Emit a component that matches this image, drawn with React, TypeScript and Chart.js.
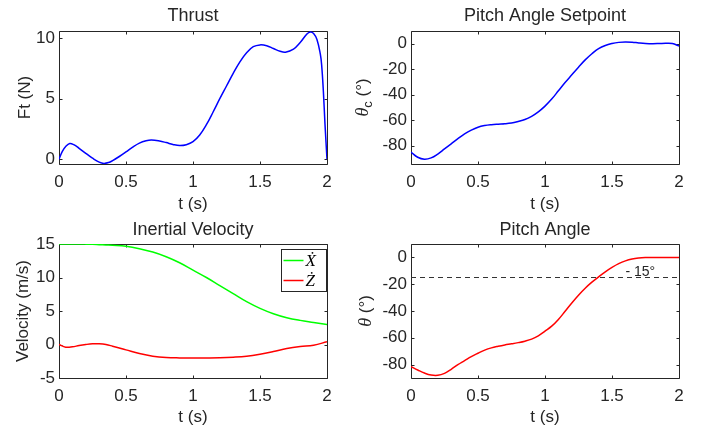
import React, { useEffect, useRef } from "react";
import { Chart, registerables } from "chart.js";

Chart.register(...registerables);

// ---------- data ----------
const xTickValues = [0, 0.5, 1, 1.5, 2];

const thrustT = [0, 0.025, 0.05, 0.08, 0.11, 0.15, 0.2, 0.25, 0.3, 0.335, 0.37, 0.4, 0.45, 0.5, 0.55, 0.6, 0.65, 0.69, 0.75, 0.8, 0.85, 0.9, 0.95, 1.0, 1.05, 1.1, 1.15, 1.2, 1.25, 1.3, 1.35, 1.4, 1.45, 1.5, 1.55, 1.6, 1.65, 1.69, 1.75, 1.8, 1.85, 1.875, 1.9, 1.925, 1.95, 1.96, 1.973, 1.985, 2.0];
const thrustF = [0, 0.65, 1.05, 1.3, 1.2, 0.9, 0.48, 0.08, -0.25, -0.35, -0.28, -0.12, 0.22, 0.6, 1.0, 1.33, 1.52, 1.58, 1.5, 1.37, 1.22, 1.13, 1.2, 1.45, 2.0, 2.85, 3.9, 5.0, 6.05, 7.1, 8.05, 8.8, 9.3, 9.45, 9.38, 9.15, 8.92, 8.85, 9.1, 9.65, 10.35, 10.52, 10.4, 9.9, 8.7, 7.8, 5.6, 2.9, 0];
const thrustTicksY = [0, 5, 10];

const setpointT = [0, 0.05, 0.1, 0.15, 0.2, 0.25, 0.3, 0.35, 0.4, 0.45, 0.5, 0.55, 0.6, 0.65, 0.7, 0.75, 0.8, 0.85, 0.9, 0.95, 1.0, 1.05, 1.1, 1.15, 1.2, 1.25, 1.3, 1.35, 1.4, 1.45, 1.5, 1.55, 1.6, 1.65, 1.7, 1.75, 1.8, 1.85, 1.9, 1.95, 2.0];
const setpointDeg = [-85, -89, -90.5, -89.5, -86.5, -82.5, -78.5, -74.5, -70.8, -67.8, -65.5, -64.2, -63.5, -63.1, -62.8, -62.2, -61, -59.5, -57, -53.5, -49, -43.5, -37, -30.5, -24.5, -18.5, -12.8, -8, -4, -1.5, 0, 0.9, 1.2, 1, 0.5, 0.1, -0.1, 0, 0.2, 0, -2];
const setpointTicksY = [-80, -60, -40, -20, 0];

const velT = [0, 0.05, 0.1, 0.15, 0.2, 0.25, 0.3, 0.35, 0.4, 0.5, 0.6, 0.7, 0.8, 0.9, 1.0, 1.1, 1.2, 1.3, 1.4, 1.5, 1.6, 1.7, 1.8, 1.9, 2.0];
const velXdot = [15, 15, 15, 15, 14.98, 14.95, 14.9, 14.85, 14.8, 14.65, 14.3, 13.8, 13.1, 12.2, 11.1, 10.0, 8.8, 7.6, 6.4, 5.4, 4.6, 4.0, 3.6, 3.3, 3.0];
const velZdot = [0, -0.4, -0.35, -0.15, 0.0, 0.1, 0.1, 0.0, -0.25, -0.8, -1.35, -1.75, -1.95, -2.0, -2.0, -2.0, -1.98, -1.9, -1.75, -1.45, -1.05, -0.6, -0.3, -0.1, 0.4];
const velTicksY = [-5, 0, 5, 10, 15];

const pitchT = [0, 0.05, 0.1, 0.15, 0.2, 0.25, 0.3, 0.35, 0.4, 0.45, 0.5, 0.55, 0.6, 0.65, 0.7, 0.75, 0.8, 0.85, 0.9, 0.95, 1.0, 1.05, 1.1, 1.15, 1.2, 1.25, 1.3, 1.35, 1.4, 1.45, 1.5, 1.55, 1.6, 1.65, 1.7, 1.75, 1.8, 1.9, 2.0];
const pitchDeg = [-81.5, -84, -86.3, -87.8, -88, -86.5, -83.5, -80, -77, -74, -71.5, -69.2, -67.5, -66.3, -65.3, -64.5, -63.6, -62.5, -61, -58.5, -55, -51.3, -46.3, -40.2, -34, -28.2, -23, -18.5, -14.5, -10.8, -7.5, -4.7, -2.6, -1.2, -0.45, -0.1, 0, 0, 0];
const pitchTicksY = [-80, -60, -40, -20, 0];
const pitchLimit = -15;
const pitchLimitLabel = "- 15°";

// ---------- styling ----------
const SANS = "'Liberation Sans', Arial, Helvetica, sans-serif";
const SERIF = "'Liberation Serif', 'Times New Roman', serif";
const TXT = "#262626";
const CW = 355;
const CH = 215;

type Part = { t: string; font: string; dy?: number };

const pts = (xs: number[], ys: number[]) => xs.map((x, i) => ({ x, y: ys[i] }));

function makeDecor(spec: any) {
  return {
    id: "decor",
    beforeDatasetsDraw(chart: any) {
      const { ctx, chartArea: a, scales } = chart;
      const L = Math.floor(a.left) + 0.5;
      const R = Math.floor(a.right) + 0.5;
      const T = Math.floor(a.top) + 0.5;
      const B = Math.floor(a.bottom) + 0.5;
      ctx.save();
      ctx.strokeStyle = TXT;
      ctx.lineWidth = 1;
      ctx.beginPath();
      ctx.rect(L, T, R - L, B - T);
      for (const v of xTickValues) {
        const p = Math.round(scales.x.getPixelForValue(v)) + 0.5;
        ctx.moveTo(p, B);
        ctx.lineTo(p, B - 3);
        ctx.moveTo(p, T);
        ctx.lineTo(p, T + 3);
      }
      for (const v of spec.yTicks) {
        const p = Math.round(scales.y.getPixelForValue(v)) + 0.5;
        ctx.moveTo(L, p);
        ctx.lineTo(L + 3, p);
        ctx.moveTo(R, p);
        ctx.lineTo(R - 3, p);
      }
      ctx.stroke();
      ctx.restore();
    },
    afterDatasetsDraw(chart: any) {
      const { ctx, chartArea: a, scales } = chart;
      ctx.save();
      // title
      ctx.fillStyle = TXT;
      ctx.font = `18px ${SANS}`;
      ctx.textAlign = "center";
      ctx.textBaseline = "middle";
      ctx.fillText(spec.title, (a.left + a.right) / 2, spec.titleY);
      // y label
      const parts: Part[] = spec.yLabel;
      let total = 0;
      for (const p of parts) {
        ctx.font = p.font;
        total += ctx.measureText(p.t).width;
      }
      ctx.translate(spec.yLabelX, (a.top + a.bottom) / 2);
      ctx.rotate(-Math.PI / 2);
      ctx.textAlign = "left";
      ctx.textBaseline = "middle";
      let x = -total / 2;
      for (const p of parts) {
        ctx.font = p.font;
        ctx.fillText(p.t, x, p.dy || 0);
        x += ctx.measureText(p.t).width;
      }
      ctx.restore();

      if (spec.legend) {
        ctx.save();
        const w = 45;
        const h = 42;
        const lx = Math.floor(a.right) - 46 + 0.5;
        const ly = Math.floor(a.top) + 5 + 0.5;
        ctx.fillStyle = "#ffffff";
        ctx.fillRect(lx, ly, w, h);
        ctx.strokeStyle = TXT;
        ctx.lineWidth = 1;
        ctx.strokeRect(lx, ly, w, h);
        spec.legend.forEach((item: any, i: number) => {
          const yy = ly + 11 + i * 20;
          ctx.strokeStyle = item.color;
          ctx.lineWidth = 1.5;
          ctx.beginPath();
          ctx.moveTo(lx + 2, yy);
          ctx.lineTo(lx + 22, yy);
          ctx.stroke();
          ctx.fillStyle = "#000";
          ctx.font = `italic 17px ${SERIF}`;
          ctx.textAlign = "left";
          ctx.textBaseline = "middle";
          ctx.fillText(item.label, lx + 24, yy + 1);
        });
        ctx.restore();
      }
      if (spec.note) {
        ctx.save();
        ctx.fillStyle = TXT;
        ctx.font = `14px ${SANS}`;
        ctx.textAlign = "left";
        ctx.textBaseline = "alphabetic";
        ctx.fillText(spec.note.text, scales.x.getPixelForValue(spec.note.x), scales.y.getPixelForValue(spec.note.y));
        ctx.restore();
      }
    },
  };
}

function makeConfig(spec: any) {
  return {
    type: "line",
    data: { datasets: spec.datasets },
    plugins: [makeDecor(spec)],
    options: {
      animation: false,
      responsive: false,
      maintainAspectRatio: false,
      events: [],
      layout: { padding: { left: 0, right: CW - spec.plot.r, top: spec.plot.t, bottom: 0 } },
      elements: { point: { radius: 0 }, line: { borderWidth: 1.5, tension: 0.4, cubicInterpolationMode: "default" } },
      plugins: { legend: { display: false }, tooltip: { enabled: false }, title: { display: false } },
      scales: {
        x: {
          type: "linear",
          min: 0,
          max: 2,
          grid: { display: false, drawTicks: false },
          border: { display: false },
          ticks: { color: TXT, font: { family: SANS, size: 17 }, padding: 8, callback: (v: any) => String(v) },
          afterBuildTicks: (s: any) => {
            s.ticks = xTickValues.map((v) => ({ value: v }));
          },
          afterFit: (s: any) => {
            s.height = CH - spec.plot.b;
          },
          title: { display: true, text: "t (s)", color: TXT, font: { family: SANS, size: 17 }, padding: { top: 0, bottom: spec.xTitlePad } },
        },
        y: {
          type: "linear",
          min: spec.yMin,
          max: spec.yMax,
          grid: { display: false, drawTicks: false },
          border: { display: false },
          ticks: { color: TXT, font: { family: SANS, size: 17 }, padding: 4, callback: (v: any) => String(v) },
          afterBuildTicks: (s: any) => {
            s.ticks = spec.yTicks.map((v: number) => ({ value: v }));
          },
          afterFit: (s: any) => {
            s.width = spec.plot.l;
          },
        },
      },
    },
  };
}

const thetaSans = `17px ${SANS}`;
const thetaItalic = `italic 18px ${SERIF}`;

const specs: any[] = [
  {
    left: 0,
    top: 0,
    plot: { l: 59, r: 327, t: 31, b: 164 },
    title: "Thrust",
    titleY: 16.5,
    yLabel: [{ t: "Ft (N)", font: thetaSans }],
    yLabelX: 25,
    xTitlePad: 0,
    yMin: -0.4,
    yMax: 10.6,
    yTicks: thrustTicksY,
    datasets: [{ data: pts(thrustT, thrustF), borderColor: "#0000ff" }],
  },
  {
    left: 355,
    top: 0,
    plot: { l: 56, r: 324, t: 31, b: 164 },
    title: "Pitch Angle Setpoint",
    titleY: 16.5,
    yLabel: [
      { t: "θ", font: thetaItalic },
      { t: "c", font: `13px ${SANS}`, dy: 5 },
      { t: " (°)", font: thetaSans },
    ],
    yLabelX: 8,
    xTitlePad: 0,
    yMin: -94.3,
    yMax: 9.8,
    yTicks: setpointTicksY,
    datasets: [{ data: pts(setpointT, setpointDeg), borderColor: "#0000ff" }],
  },
  {
    left: 0,
    top: 215,
    plot: { l: 59, r: 327, t: 29, b: 163 },
    title: "Inertial Velocity",
    titleY: 15,
    yLabel: [{ t: "Velocity (m/s)", font: thetaSans }],
    yLabelX: 23,
    xTitlePad: 2,
    yMin: -5,
    yMax: 15,
    yTicks: velTicksY,
    legend: [
      { label: "Ẋ", color: "#00ff00" },
      { label: "Ż", color: "#ff0000" },
    ],
    datasets: [
      { data: pts(velT, velXdot), borderColor: "#00ff00" },
      { data: pts(velT, velZdot), borderColor: "#ff0000" },
    ],
  },
  {
    left: 355,
    top: 215,
    plot: { l: 56, r: 324, t: 29, b: 163 },
    title: "Pitch Angle",
    titleY: 15,
    yLabel: [
      { t: "θ", font: thetaItalic },
      { t: " (°)", font: thetaSans },
    ],
    yLabelX: 11,
    xTitlePad: 2,
    yMin: -90,
    yMax: 10,
    yTicks: pitchTicksY,
    note: { text: pitchLimitLabel, x: 1.6, y: -13.6 },
    datasets: [
      { data: pts(pitchT, pitchDeg), borderColor: "#ff0000" },
      {
        data: pts([0, 2], [pitchLimit, pitchLimit]),
        borderColor: "#333333",
        borderWidth: 1,
        borderDash: [5, 4],
        tension: 0,
      },
    ],
  },
];

function Panel({ spec }: { spec: any }) {
  const ref = useRef<HTMLCanvasElement | null>(null);
  useEffect(() => {
    if (!ref.current) return;
    const chart = new Chart(ref.current, makeConfig(spec) as any);
    return () => chart.destroy();
  }, [spec]);
  return (
    <canvas
      ref={ref}
      width={CW}
      height={CH}
      style={{ position: "absolute", left: spec.left, top: spec.top, width: CW, height: CH, display: "block" }}
    />
  );
}

export default function App() {
  return (
    <div style={{ position: "absolute", left: 0, top: 0, width: 710, height: 430, background: "#ffffff", overflow: "hidden" }}>
      {specs.map((s, i) => (
        <Panel key={i} spec={s} />
      ))}
    </div>
  );
}
